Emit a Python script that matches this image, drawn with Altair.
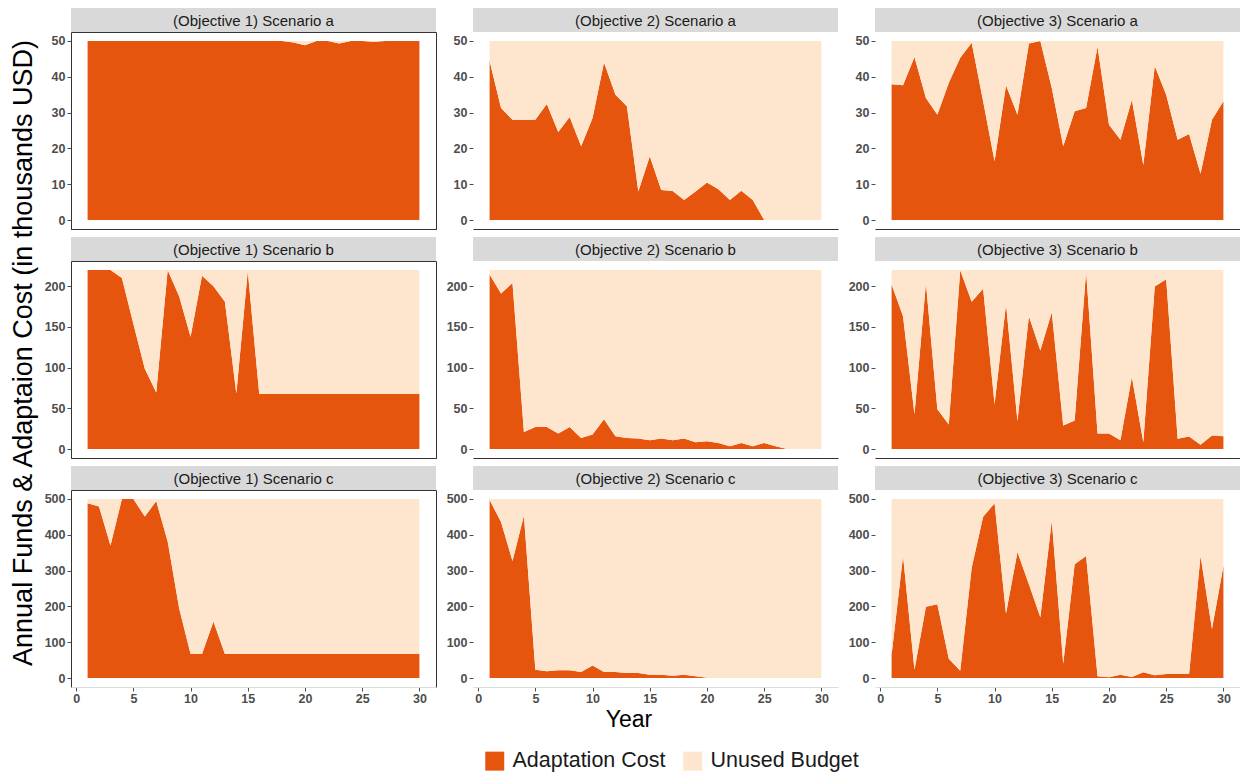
import altair as alt
import pandas as pd

years = list(range(1, 31))

obj1_a = [50, 50, 50, 50, 50, 50, 50, 50, 50, 50, 50, 50, 50, 50, 50, 50, 50, 50, 49.6, 48.8,
          50, 50, 49.3, 50, 50, 49.8, 50, 50, 50, 50]
obj2_a = [44.4, 31.3, 28, 28, 28, 32.4, 24.6, 28.8, 20.6, 28.5, 44, 35, 31.8, 8, 17.8, 8.4, 8.1, 5.6, 8, 10.5,
          8.6, 5.6, 8.2, 5.6, 0, 0, 0, 0, 0, 0]
obj3_a = [37.9, 37.6, 45.5, 34.1, 29.4, 38.3, 45.3, 49.5, 33.2, 16.4, 37.6, 29.4, 49.3, 50, 36.9, 20.6, 30.4,
          31.3, 48.4, 26.6, 22.4, 33.6, 15.4, 43, 35, 22.4, 24, 12.9, 28, 33.2]

obj1_b = [220, 220, 220, 210, 154, 98.5, 69.6, 220, 187.6, 138, 213, 200, 181, 68.3, 218.6, 67.5, 67.5, 67.5,
          67.5, 67.5, 67.5, 67.5, 67.5, 67.5, 67.5, 67.5, 67.5, 67.5, 67.5, 67.5]
obj2_b = [214.5, 191, 204, 20.8, 27, 27, 19, 27, 13.7, 17.9, 36.6, 15.8, 13.7, 12.9, 10.8, 12.9, 10.8, 12.9,
          8.3, 9.6, 7.5, 3.3, 7.5, 3.3, 7.5, 3.3, 0, 0, 0, 0]
obj3_b = [202, 163, 42.6, 204, 49, 30, 219.5, 181, 197, 55, 178, 34.4, 163, 121, 168, 29, 35, 218, 19, 19,
          10.8, 88.6, 8.3, 199.6, 208.7, 12.5, 15.4, 5.4, 16.6, 15.8]

obj1_c = [488, 479, 370, 500, 500, 451, 494, 381, 195, 67, 67, 158, 67, 67, 67, 67, 67, 67, 67, 67,
          67, 67, 67, 67, 67, 67, 67, 67, 67, 67]
obj2_c = [497, 436, 327, 453, 23, 19, 21.5, 21.5, 17, 35, 17, 17, 14, 14, 9.3, 9.3, 6.5, 9.3, 4.7, 1,
          0, 0, 0, 0, 0, 0, 0, 0, 0, 0]
obj3_c = [65, 341, 23, 199, 206, 54, 20.6, 308, 450, 488, 180, 352, 262, 170, 439, 40, 318, 341, 4.7, 2,
          9.3, 3, 16, 7.5, 11, 11, 11, 341, 137, 313]

budgets = [50, 220, 500]
scenarios = ["a", "b", "c"]
y_ticks = [[0, 10, 20, 30, 40, 50], [0, 50, 100, 150, 200], [0, 100, 200, 300, 400, 500]]
x_ticks = [0, 5, 10, 15, 20, 25, 30]
series = [[obj1_a, obj2_a, obj3_a], [obj1_b, obj2_b, obj3_b], [obj1_c, obj2_c, obj3_c]]
types = ["Adaptation Cost", "Unused Budget"]
colors = ["#E6550D", "#FEE6CE"]

W = 365
H = 197
STRIP = 24
FONT = "Liberation Sans"
YTITLE = "Annual Funds & Adaptaion Cost (in thousands USD)"


def panel(r, c):
    vals = series[r][c]
    b = budgets[r]
    rows = []
    for yr, v in zip(years, vals):
        rows.append({"Year": yr, "v": v, "Type": types[0], "ord": 0})
        rows.append({"Year": yr, "v": b - v, "Type": types[1], "ord": 1})
    df = pd.DataFrame(rows)

    bottom = r == 2
    x_axis = alt.Axis(
        values=x_ticks, labels=bottom, ticks=bottom, grid=False,
        domain=True, domainColor="#DDDDDD" if bottom else "#333333",
        labelFontSize=12.5, labelFontWeight="bold", labelColor="#4D4D4D",
        tickColor="#4D4D4D", tickSize=4, labelPadding=1,
        title="Year" if (bottom and c == 1) else None,
        titleFontSize=23, titleFontWeight="normal", titleColor="#000000",
        titlePadding=4, titleX=W / 2 - 27,
    )
    y_axis = alt.Axis(
        values=y_ticks[r], grid=False, domain=False,
        labelFontSize=12.5, labelFontWeight="bold", labelColor="#4D4D4D",
        tickColor="#4D4D4D", tickSize=4, labelPadding=2,
        title=YTITLE if (r == 1 and c == 0) else None,
        titleFontSize=27, titleFontWeight="normal", titleColor="#000000",
        titlePadding=7, titleY=H / 2 - 7,
    )

    area = alt.Chart(df).mark_area(interpolate="linear").encode(
        x=alt.X("Year:Q", scale=alt.Scale(domain=[-0.45, 31.45], nice=False, zero=False), axis=x_axis),
        y=alt.Y("v:Q", stack="zero",
                scale=alt.Scale(domain=[-0.05 * b, 1.05 * b], nice=False, zero=False), axis=y_axis),
        color=alt.Color("Type:N", scale=alt.Scale(domain=types, range=colors),
                        legend=alt.Legend(title=None, orient="none", direction="horizontal",
                                          legendX=413, legendY=718, symbolType="square",
                                          symbolSize=360, symbolStrokeWidth=0,
                                          labelFontSize=21.5, labelColor="#1A1A1A",
                                          columnPadding=16, labelOffset=7)),
        order=alt.Order("ord:Q"),
    )

    title = f"(Objective {c + 1}) Scenario {scenarios[r]}"
    sdf = pd.DataFrame({"t": [title]})
    strip = alt.Chart(sdf).mark_rect(color="#D9D9D9").encode(
        x=alt.value(0), x2=alt.value(W), y=alt.value(-STRIP), y2=alt.value(0)
    )
    stext = alt.Chart(sdf).mark_text(fontSize=15, color="#1A1A1A", font=FONT, baseline="middle").encode(
        x=alt.value(W / 2), y=alt.value(-STRIP / 2 + 1), text="t:N"
    )
    layer = alt.layer(strip, stext, area).properties(width=W, height=H)
    if c == 0:
        layer = layer.properties(view=alt.ViewBackground(stroke="#333333", strokeWidth=1))
    else:
        layer = layer.properties(view=alt.ViewBackground(stroke=None))
    return layer


panels = [panel(r, c) for r in range(3) for c in range(3)]

chart = alt.concat(*panels, columns=3, bounds="flush",
                   spacing={"row": 8 + STRIP, "column": 37}).resolve_scale(
    x="independent", y="independent", color="shared"
).properties(
    padding={"left": 0, "top": -1, "right": 0, "bottom": 0}
).configure(font=FONT).configure_view(stroke=None)

chart.save("out.html", embed_options={"renderer": "svg", "actions": False})
